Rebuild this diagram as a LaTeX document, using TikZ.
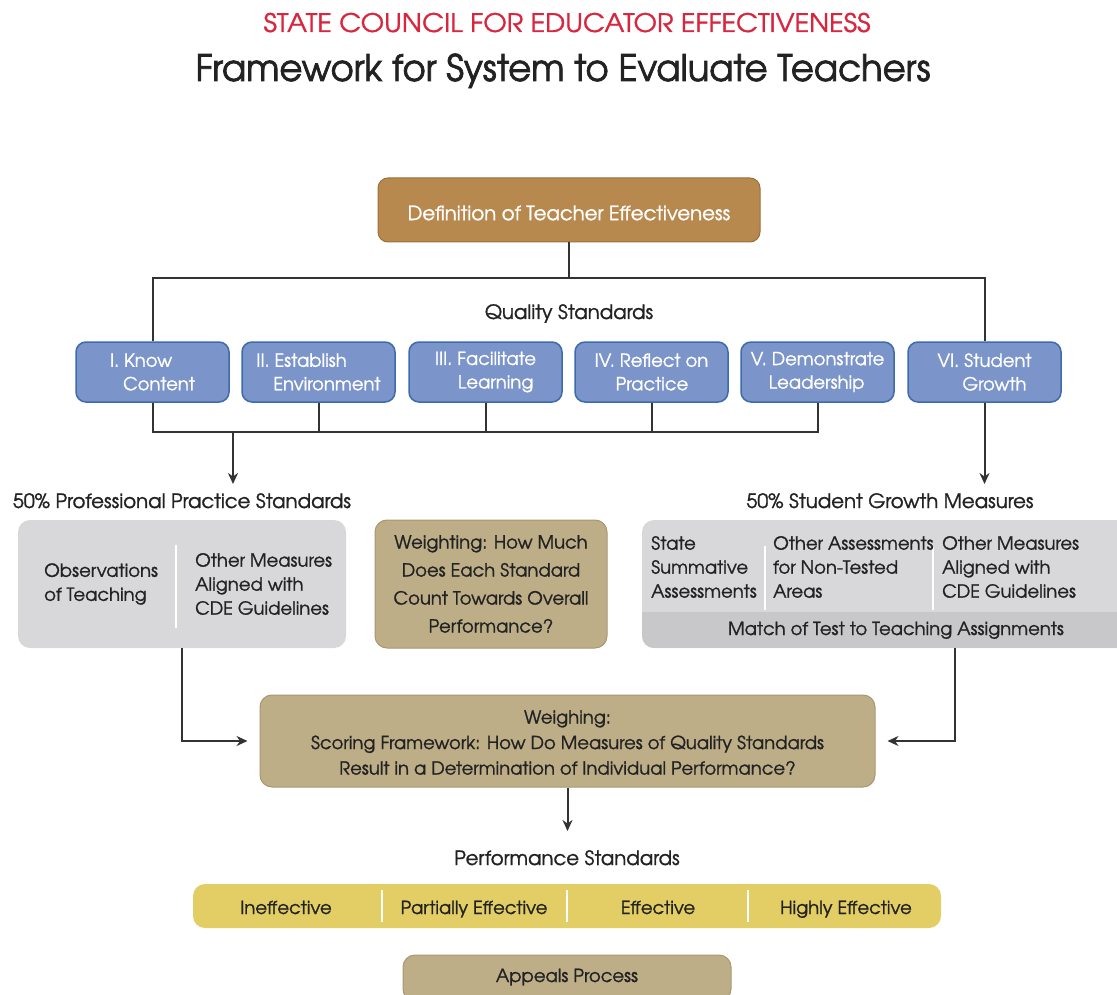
\documentclass[tikz,border=0pt]{standalone}
\usepackage{fontspec}
\setmainfont{texgyreadventor}[Extension=.otf,UprightFont=*-regular,UprightFeatures={FakeBold=1.2},BoldFont=*-bold]
\newfontfamily\titlefont{texgyreadventor}[Extension=.otf,UprightFont=*-regular,UprightFeatures={FakeBold=2}]
\usepackage{graphicx}
\usetikzlibrary{arrows.meta}
\definecolor{defbrown}{HTML}{B7894E}
\definecolor{defborder}{HTML}{9C6F3A}
\definecolor{bluefill}{HTML}{7B94C9}
\definecolor{blueborder}{HTML}{3C6BAE}
\definecolor{tanfill}{HTML}{BDAE88}
\definecolor{tanborder}{HTML}{A89870}
\definecolor{grayfill}{HTML}{D8D8DA}
\definecolor{grayband}{HTML}{C8C8CA}
\definecolor{yellowfill}{HTML}{E3CD65}
\definecolor{titlered}{HTML}{D9263F}
\definecolor{ink}{HTML}{222222}
\definecolor{linecol}{HTML}{333333}
\newcommand{\fitw}[2]{\resizebox{#1pt}{\height}{#2}}
\newcommand{\dn}[2]{\raisebox{-#1pt}[\height][\depth]{#2}}
\tikzset{
  defbox/.style={rounded corners=10pt, fill=defbrown, draw=defborder, line width=1pt, text=white,
    minimum width=382, minimum height=64, inner sep=0pt, font=\fontsize{19.7}{22}\selectfont},
  stdbox/.style={rounded corners=10pt, fill=bluefill, draw=blueborder, line width=1.5pt, text=white,
    align=left, minimum width=153, minimum height=60, inner sep=0pt, font=\fontsize{18}{23.5}\selectfont},
  graybox/.style={rounded corners=12pt, fill=grayfill, inner sep=0pt},
  tanbox/.style={rounded corners=12pt, fill=tanfill, draw=tanborder, line width=1pt, inner sep=0pt, text=ink},
  lbl/.style={text=ink, inner sep=0pt, font=\fontsize{19.7}{22}\selectfont},
  btxt/.style={text=ink, inner sep=0pt, font=\fontsize{18}{24}\selectfont},
  conn/.style={draw=linecol, line width=2pt},
  arr/.style={conn, -{Stealth[length=11pt,width=10pt]}},
  divider/.style={draw=white, line width=1.3pt},
}
\begin{document}
\begin{tikzpicture}[x=1pt,y=-1pt]
\useasboundingbox (0,0) rectangle (1117,995);
\clip (0,0) rectangle (1117,995);

% titles
\node[text=titlered, inner sep=0pt, anchor=base, font=\fontsize{25.5}{28}\selectfont] (t1) at (567,32) {\fitw{607}{STATE COUNCIL FOR EDUCATOR EFFECTIVENESS}};
\node[text=ink, inner sep=0pt, anchor=base, font=\titlefont\fontsize{36.5}{40}\selectfont] (t2) at (563,81) {\fitw{735}{Framework for System to Evaluate Teachers}};

% definition
\node[defbox] (def) at (569,210) {\dn{3}{Definition of Teacher Effectiveness}};
\coordinate (j1) at (569,278);
\coordinate (b1) at (0,432);

\node[lbl, anchor=base] (qs) at (569,319) {Quality Standards};

\node[stdbox] (k1) at (152.5,372) {I. Know\\\hspace*{13pt}Content};
\node[stdbox] (k2) at (318.5,372) {II. Establish\\\hspace*{17pt}Environment};
\node[stdbox] (k3) at (485.5,372) {III. Facilitate\\\hspace*{23pt}Learning};
\node[stdbox] (k4) at (651.5,372) {IV. Reflect on\\\hspace*{21pt}Practice};
\node[stdbox] (k5) at (817.5,372) {V. Demonstrate\\\hspace*{18pt}Leadership};
\node[stdbox] (k6) at (984.5,372) {VI. Student\\\hspace*{25pt}Growth};

\draw[conn] (def.south) -- (j1);
\draw[conn] (k1.north) -- (k1.north |- j1) -- (k6.north |- j1) -- (k6.north);
\draw[conn] (k1.south) -- (k1.south |- b1) -- (k5.south |- b1) -- (k5.south);
\draw[conn] (k2.south) -- (k2.south |- b1);
\draw[conn] (k3.south) -- (k3.south |- b1);
\draw[conn] (k4.south) -- (k4.south |- b1);
\coordinate (a1) at (233,432);
\coordinate (a1e) at (233,484);
\draw[arr] (a1) -- (a1e);
\coordinate (a2e) at (984.5,484);
\draw[arr] (k6.south) -- (a2e);

% headings
\node[lbl, anchor=base] (pp) at (182,508) {50\% Professional Practice Standards};
\node[lbl, anchor=base] (sg) at (890,508) {50\% Student Growth Measures};

% left gray box
\node[graybox, minimum width=328, minimum height=128] (lg) at (182,584) {};
\draw[divider] (176,545) -- (176,628);
\node[btxt, align=left, anchor=west] (obs) at (44,584) {Observations\\of Teaching};
\node[btxt, align=left, anchor=west] (om1) at (195,584) {Other Measures\\Aligned with\\CDE Guidelines};

% middle tan box
\node[tanbox, minimum width=232, minimum height=128, align=center, font=\fontsize{18}{28}\selectfont] (wt) at (491,584) {Weighting: How Much\\Does Each Standard\\Count Towards Overall\\Performance?};

% right gray box
\node[graybox, minimum width=493, minimum height=128] (rg) at (888.5,584) {};
\begin{scope}
  \clip[rounded corners=12pt] (642,520) rectangle (1135,648);
  \fill[grayband] (642,612) rectangle (1135,648);
\end{scope}
\draw[divider] (765,546) -- (765,610);
\draw[divider] (933,546) -- (933,610);
\node[btxt, align=left, anchor=west] (c1) at (651,567) {State\\Summative\\Assessments};
\node[btxt, align=left, anchor=west] (c2) at (773,567) {Other Assessments\\for Non-Tested\\Areas};
\node[btxt, align=left, anchor=west] (c3) at (942,567) {Other Measures\\Aligned with\\CDE Guidelines};
\node[btxt, anchor=base] (match) at (896,635) {Match of Test to Teaching Assignments};

% weighing box
\node[tanbox, minimum width=615, minimum height=92, font=\fontsize{18}{25.5}\selectfont] (wg) at (567.5,741) {\dn{3}{\begin{tabular}{@{}c@{}}Weighing:\\Scoring Framework: How Do Measures of Quality Standards\\Result in a Determination of Individual Performance?\end{tabular}}};
\coordinate (rgb) at (955,648);
\draw[arr, shorten >=12pt] (lg.south) |- (wg.west);
\draw[arr, shorten >=12pt] (rgb) |- (wg.east);
\coordinate (wge) at (567.5,831);
\draw[arr] (wg.south) -- (wge);

% performance
\node[lbl, anchor=base] (ps) at (567,865) {Performance Standards};
\node[rounded corners=12pt, fill=yellowfill, minimum width=748, minimum height=44, inner sep=0pt] (bar) at (567,906) {};
\draw[divider] (382,890) -- (382,922);
\draw[divider] (567,890) -- (567,922);
\draw[divider] (748,890) -- (748,922);
\node[btxt, anchor=base] (p1) at (286,914) {Ineffective};
\node[btxt, anchor=base] (p2) at (474,914) {Partially Effective};
\node[btxt, anchor=base] (p3) at (658,914) {Effective};
\node[btxt, anchor=base] (p4) at (846,914) {Highly Effective};

% appeals
\node[tanbox, minimum width=328, minimum height=46] (ap) at (567,978) {};
\node[btxt, anchor=base] (apt) at (567,982) {Appeals Process};
\end{tikzpicture}
\end{document}
